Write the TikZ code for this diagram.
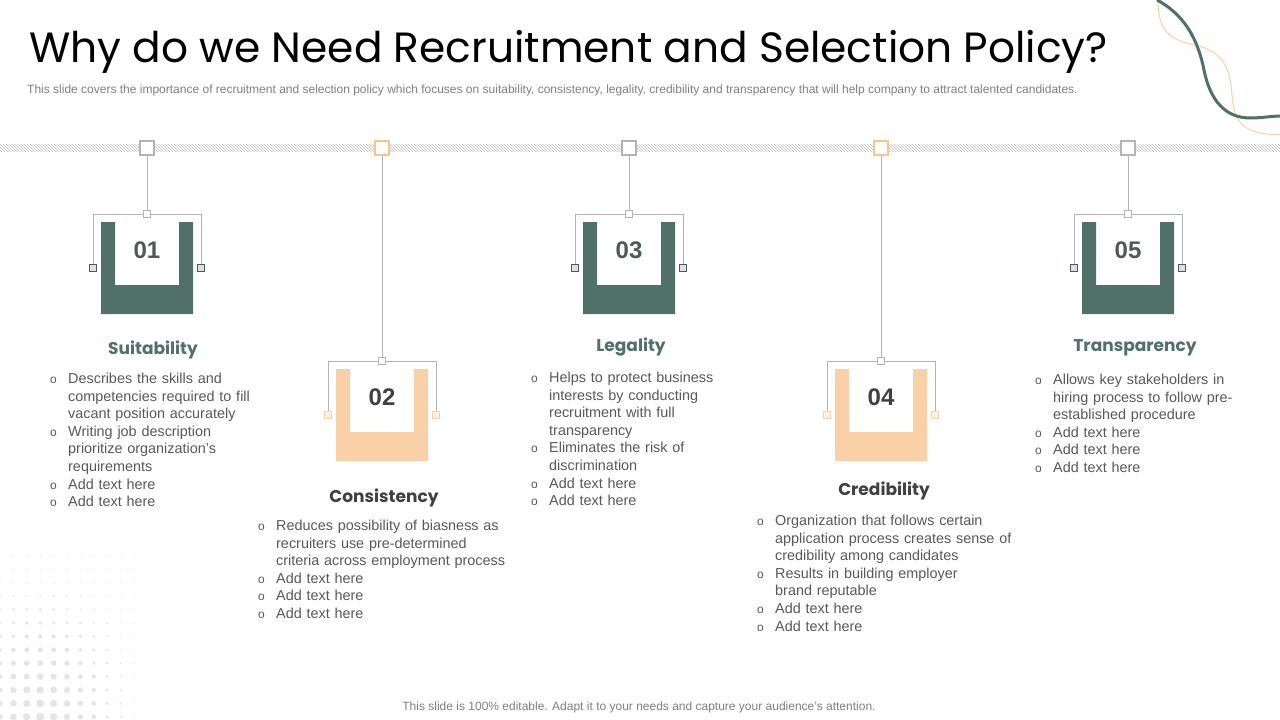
\documentclass[tikz,border=0pt]{standalone}
\usepackage{fontspec}
\setmainfont{Liberation Sans}
\newfontfamily\titlefont{Poppins}
\usetikzlibrary{patterns}
\definecolor{tealc}{HTML}{52706A}
\definecolor{peach}{HTML}{FAD0A8}
\definecolor{peachline}{HTML}{F6C494}
\definecolor{txtc}{HTML}{595959}
\definecolor{darkc}{HTML}{404040}
\definecolor{linec}{HTML}{B4B4B4}
\definecolor{numt}{HTML}{4D5A58}
\newcommand\bitem[1]{\par\hangindent=18pt\hangafter=1\noindent\makebox[18pt][l]{\fontsize{12}{12}\selectfont o}\strut#1}
\tikzset{
  topsq/.style={draw=linec, fill=white, minimum size=14pt, inner sep=0pt, line width=1.1pt},
  midsq/.style={draw=linec, fill=white, minimum size=7pt, inner sep=0pt, line width=0.7pt},
  endsqt/.style={draw=numt, fill=gray!25, minimum size=7pt, inner sep=0pt, line width=0.7pt},
  endsqp/.style={draw=peach, fill=peach!30, minimum size=7pt, inner sep=0pt, line width=0.7pt},
  conn/.style={draw=linec, line width=0.8pt},
  numlab/.style={font=\bfseries\fontsize{24}{24}\selectfont, inner sep=0pt},
  head/.style={font=\titlefont\bfseries\fontsize{17}{20}\selectfont, inner sep=0pt},
  listtext/.style={anchor=north west, inner sep=0pt, text width=280pt, align=left,
     font=\fontsize{14.4}{17.6}\selectfont, text=txtc},
}
\begin{document}
\begin{tikzpicture}[x=1pt,y=-1pt]
\useasboundingbox (0,0) rectangle (1280,720);
\fill[white] (0,0) rectangle (1280,720);
% dot pattern
\foreach \c in {0,...,10}{
  \foreach \r in {0,...,12}{
    \pgfmathsetmacro\px{13.4*\c}
    \pgfmathsetmacro\py{556+13.4*\r}
    \pgfmathsetmacro\dd{sqrt(((\px-40)/115)^2+((\py-715)/165)^2)}
    \pgfmathsetmacro\rr{max(0.7,4.2*(1-\dd))}
    \fill[gray!20] (\px,\py) circle (\rr pt);
  }
}
% decorative curves
\draw[peach, line width=1pt] (1158,0) .. controls (1158,25) and (1165,40) .. (1195,45) .. controls (1225,52) and (1230,70) .. (1232,95) .. controls (1234,125) and (1245,134) .. (1281,135);
\draw[tealc, line width=3pt] (1157,0) .. controls (1185,15) and (1198,40) .. (1204,70) .. controls (1210,100) and (1225,118) .. (1250,118) .. controls (1262,118) and (1272,116) .. (1281,116);
% title
\node[anchor=base west, inner sep=0pt, font=\titlefont\fontsize{42.3}{46}\selectfont, text=black] (title) at (29,62) {Why do we Need Recruitment and Selection Policy?};
\node[anchor=base west, inner sep=0pt, font=\fontsize{12}{13}\selectfont, text=gray] (sub) at (27,93) {This slide covers the importance of recruitment and selection policy which focuses on suitability, consistency, legality, credibility and transparency that will help company to attract talented candidates.};
% hatched band
\fill[pattern=north west lines, pattern color=gray!50] (0,144.5) rectangle (1280,151);
% columns
\foreach \i/\cx/\tp/\cl/\es/\nc/\tc in {1/147/222/tealc/endsqt/numt/linec, 2/382/369/peach/endsqp/darkc/peachline, 3/629/222/tealc/endsqt/numt/linec, 4/881/369/peach/endsqp/darkc/peachline, 5/1128/222/tealc/endsqt/numt/linec}{
  \fill[\cl] (\cx-46,\tp) -- (\cx-46,\tp+92) -- (\cx+46,\tp+92) -- (\cx+46,\tp) -- (\cx+32,\tp) -- (\cx+32,\tp+63) -- (\cx-32,\tp+63) -- (\cx-32,\tp) -- cycle;
  \node[topsq, draw=\tc] (t\i) at (\cx,148) {};
  \node[midsq] (m\i) at (\cx,\tp-8) {};
  \node[\es] (l\i) at (\cx-54,\tp+46) {};
  \node[\es] (r\i) at (\cx+54,\tp+46) {};
  \draw[conn] (t\i) -- (m\i);
  \draw[conn] (l\i.north) |- (m\i.west);
  \draw[conn] (m\i.east) -| (r\i.north);
  \node[numlab, text=\nc] (n\i) at (\cx,\tp+28) {0\i};
}
% headings
\node[head, text=tealc] (h1) at (153,350) {Suitability};
\node[head, text=darkc] (h2) at (384,498) {Consistency};
\node[head, text=tealc] (h3) at (631,347) {Legality};
\node[head, text=darkc] (h4) at (884,491) {Credibility};
\node[head, text=tealc] (h5) at (1135,348) {Transparency};
% lists
\node[listtext] (b1) at (50,365.7) {%
\bitem{Describes the skills and\newline competencies required to fill\newline vacant position accurately}%
\bitem{Writing job description\newline prioritize organization’s\newline requirements}%
\bitem{Add text here}%
\bitem{Add text here}\par};
\node[listtext] (b2) at (258,512.7) {%
\bitem{Reduces possibility of biasness as\newline recruiters use pre-determined\newline criteria across employment process}%
\bitem{Add text here}%
\bitem{Add text here}%
\bitem{Add text here}\par};
\node[listtext] (b3) at (531,364.7) {%
\bitem{Helps to protect business\newline interests by conducting\newline recruitment with full\newline transparency}%
\bitem{Eliminates the risk of\newline discrimination}%
\bitem{Add text here}%
\bitem{Add text here}\par};
\node[listtext] (b4) at (757,507.7) {%
\bitem{Organization that follows certain\newline application process creates sense of\newline credibility among candidates}%
\bitem{Results in building employer\newline brand reputable}%
\bitem{Add text here}%
\bitem{Add text here}\par};
\node[listtext] (b5) at (1035,366.7) {%
\bitem{Allows key stakeholders in\newline hiring process to follow pre-\newline established procedure}%
\bitem{Add text here}%
\bitem{Add text here}%
\bitem{Add text here}\par};
% footer
\node[inner sep=0pt, font=\fontsize{12}{13}\selectfont, text=gray] (foot) at (639,707) {This slide is 100\% editable. Adapt it to your needs and capture your audience's attention.};
\end{tikzpicture}
\end{document}
